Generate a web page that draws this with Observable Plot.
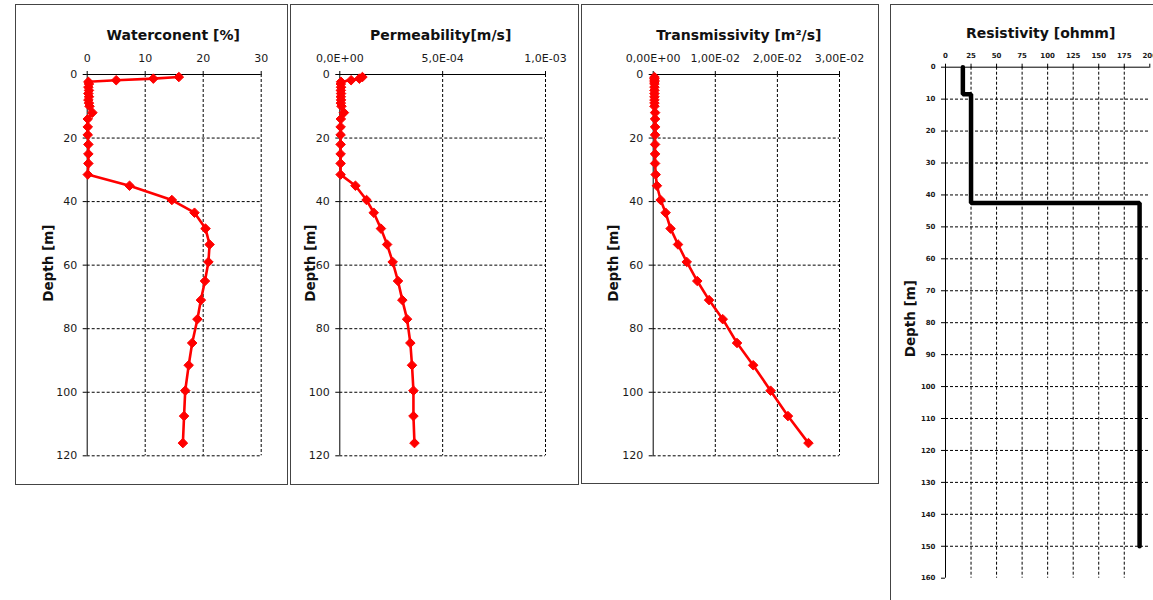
<!DOCTYPE html>
<html>
<head>
<meta charset="utf-8">
<script src="https://cdn.jsdelivr.net/npm/d3@7"></script>
<script src="https://cdn.jsdelivr.net/npm/@observablehq/plot@0.6"></script>
<style>
html, body { margin: 0; padding: 0; width: 1153px; height: 600px; overflow: hidden; background: #fff; }
.frame { position: absolute; border: 1.5px solid #444; box-sizing: border-box; pointer-events: none; }
.holder { position: absolute; }
.holder svg { display: block; max-width: none !important; }
</style>
</head>
<body>
<script>
// ---------- data ----------
const depthM = [0.8, 1.3, 1.8, 2.3, 3, 4, 5, 6, 7, 8, 9, 10, 12, 14, 16.5, 19, 22, 25, 28, 31.5,
  35, 39.5, 43.5, 48.5, 53.5, 59, 65, 71, 77, 84.5, 91.5, 99.5, 107.5, 116];
const waterContent = [15.8, 11.4, 5.0, 0.2, 0.3, 0.2, 0.3, 0.2, 0.3, 0.2, 0.3, 0.4, 0.9, 0.1, 0.1, 0.1, 0.2, 0.2, 0.2, 0.1,
  7.3, 14.6, 18.5, 20.4, 21.1, 20.9, 20.3, 19.6, 19.0, 18.1, 17.5, 16.9, 16.7, 16.5];
const permeability = [1.1e-4, 0.95e-4, 0.55e-4, 0.06e-4, 0.05e-4, 0.06e-4, 0.05e-4, 0.06e-4, 0.05e-4, 0.06e-4, 0.05e-4, 0.08e-4, 0.2e-4, 0.05e-4, 0.04e-4, 0.04e-4, 0.04e-4, 0.04e-4, 0.04e-4, 0.04e-4,
  0.76e-4, 1.3e-4, 1.65e-4, 2.0e-4, 2.3e-4, 2.57e-4, 2.83e-4, 3.04e-4, 3.27e-4, 3.43e-4, 3.51e-4, 3.58e-4, 3.58e-4, 3.63e-4];
const transmissivity = [0.0002, 0.0002, 0.0002, 0.0002, 0.0002, 0.0002, 0.0002, 0.0002, 0.0002, 0.0002, 0.0002, 0.0002, 0.0003, 0.0003, 0.0003, 0.0003, 0.0003, 0.0003, 0.0003, 0.0004,
  0.0006, 0.0012, 0.0020, 0.0028, 0.0040, 0.0054, 0.0071, 0.0090, 0.0112, 0.0135, 0.0161, 0.0189, 0.0217, 0.0250];
const resistivityDepth = [0, 8.5, 8.5, 42.5, 42.5, 150];
const resistivityValue = [17, 17, 25, 25, 190, 190];

const depthTicks = [0, 20, 40, 60, 80, 100, 120];
const resDepthTicks = [0, 10, 20, 30, 40, 50, 60, 70, 80, 90, 100, 110, 120, 130, 140, 150, 160];
const waterTicks = [0, 10, 20, 30];
const waterTickLabels = ["0", "10", "20", "30"];
const permTicks = [0, 5e-4, 1e-3];
const permTickLabels = ["0,0E+00", "5,0E-04", "1,0E-03"];
const transTicks = [0, 0.01, 0.02, 0.03];
const transTickLabels = ["0,00E+00", "1,00E-02", "2,00E-02", "3,00E-02"];
const resTicks = [0, 25, 50, 75, 100, 125, 150, 175, 200];
const resTickLabels = ["0", "25", "50", "75", "100", "125", "150", "175", "200"];

const titles = ["Waterconent [%]", "Permeability[m/s]", "Transmissivity [m²/s]", "Resistivity [ohmm]"];
const depthLabel = "Depth [m]";

const rows = (xs) => depthM.map((d, i) => ({depth: d, v: xs[i]}));
const resRows = resistivityDepth.map((d, i) => ({depth: d, v: resistivityValue[i]}));

function panel(cfg) {
  const dash = {stroke: "#000", strokeOpacity: 1, strokeWidth: 1, strokeDasharray: "3,2"};
  const marks = [
    Plot.ruleX(cfg.xGrid, dash),
    Plot.ruleY(cfg.yGrid, dash),
    Plot.ruleX([cfg.xDomain[0]], {stroke: "#000", strokeWidth: 1}),
    Plot.ruleY([cfg.yDomain[0]], {stroke: "#000", strokeWidth: 1}),
    Plot.axisX(cfg.xTicks, {anchor: "top", tickSize: 4, tickPadding: cfg.xPad, label: null,
      tickFormat: (d) => cfg.xLabels[cfg.xTicks.indexOf(d)], fontSize: cfg.tickFont, fill: "#1a1a1a",
      fontWeight: cfg.tickWeight}),
    Plot.axisY(cfg.yTicks, {anchor: "left", tickSize: 4, tickPadding: 6, label: null,
      tickFormat: (d) => String(d), fontSize: cfg.tickFont, fill: "#1a1a1a", fontWeight: cfg.tickWeight}),
    ...cfg.dataMarks,
    Plot.text([cfg.title], {frameAnchor: "top", dx: cfg.titleDx, dy: cfg.titleDy, lineAnchor: "middle",
      fontWeight: "bold", fontSize: 14, fill: "#111"}),
    Plot.text([depthLabel], {frameAnchor: "left", dx: cfg.labelDx, dy: cfg.labelDy, rotate: -90,
      textAnchor: "middle", lineAnchor: "middle", fontWeight: "bold", fontSize: 13.5, fill: "#111"})
  ];
  const svg = Plot.plot({
    width: cfg.box.w, height: cfg.box.h,
    marginLeft: cfg.m.l, marginRight: cfg.m.r, marginTop: cfg.m.t, marginBottom: cfg.m.b,
    style: {fontFamily: "'DejaVu Sans', Verdana, sans-serif", background: "transparent", overflow: "visible"},
    x: {domain: cfg.xDomain},
    y: {domain: cfg.yDomain, reverse: true},
    marks
  });
  const holder = document.createElement("div");
  holder.className = "holder";
  holder.style.left = cfg.box.x + "px";
  holder.style.top = cfg.box.y + "px";
  holder.appendChild(svg);
  document.body.appendChild(holder);
  const frame = document.createElement("div");
  frame.className = "frame";
  frame.style.left = cfg.box.x + "px";
  frame.style.top = cfg.box.y + "px";
  frame.style.width = cfg.box.w + "px";
  frame.style.height = cfg.box.h + "px";
  document.body.appendChild(frame);
}

function redSeries(xs) {
  const data = rows(xs);
  return [
    Plot.line(data, {x: "v", y: "depth", stroke: "#ff0000", strokeWidth: 2.6, curve: "linear"}),
    Plot.dot(data, {x: "v", y: "depth", symbol: "diamond2", r: 4.3, fill: "#ff0000", stroke: "#ff0000", strokeWidth: 1})
  ];
}

// Panel 1: water content
panel({
  box: {x: 15, y: 4, w: 273, h: 481},
  m: {l: 71.7, r: 27.3, t: 70, b: 29.7},
  xDomain: [0, 30], xTicks: waterTicks, xLabels: waterTickLabels, xGrid: waterTicks.slice(1),
  yDomain: [0, 120], yTicks: depthTicks, yGrid: depthTicks.slice(1),
  tickFont: 11, tickWeight: "normal", xPad: 9,
  title: titles[0], titleDx: -1, titleDy: -39,
  labelDx: 33.3 - 71.7, labelDy: -2,
  dataMarks: redSeries(waterContent)
});

// Panel 2: permeability
panel({
  box: {x: 290, y: 4, w: 289, h: 481},
  m: {l: 49.3, r: 34, t: 70, b: 29.7},
  xDomain: [0, 1e-3], xTicks: permTicks, xLabels: permTickLabels, xGrid: permTicks.slice(1),
  yDomain: [0, 120], yTicks: depthTicks, yGrid: depthTicks.slice(1),
  tickFont: 11, tickWeight: "normal", xPad: 9,
  title: titles[1], titleDx: -2, titleDy: -39,
  labelDx: 20 - 49.3, labelDy: -2,
  dataMarks: redSeries(permeability)
});

// Panel 3: transmissivity
panel({
  box: {x: 581, y: 4, w: 298, h: 480},
  m: {l: 71.7, r: 40, t: 70, b: 28.7},
  xDomain: [0, 0.03], xTicks: transTicks, xLabels: transTickLabels, xGrid: transTicks.slice(1),
  yDomain: [0, 120], yTicks: depthTicks, yGrid: depthTicks.slice(1),
  tickFont: 11, tickWeight: "normal", xPad: 9,
  title: titles[2], titleDx: -7.5, titleDy: -39,
  labelDx: 32 - 71.7, labelDy: -2,
  dataMarks: redSeries(transmissivity)
});

// Panel 4: resistivity
panel({
  box: {x: 890, y: 4, w: 300, h: 620},
  m: {l: 55, r: 40.7, t: 62.7, b: 46.3},
  xDomain: [0, 200], xTicks: resTicks, xLabels: resTickLabels, xGrid: resTicks.slice(1, -1),
  yDomain: [0, 160], yTicks: resDepthTicks, yGrid: resDepthTicks.slice(1, -1),
  tickFont: 7, tickWeight: "bold", xPad: 5,
  title: titles[3], titleDx: -7, titleDy: -33.7,
  labelDx: 20 - 55, labelDy: -4,
  dataMarks: [
    Plot.line(resRows, {x: "v", y: "depth", stroke: "#000", strokeWidth: 4.5, strokeLinejoin: "miter"})
  ]
});
</script>
</body>
</html>
